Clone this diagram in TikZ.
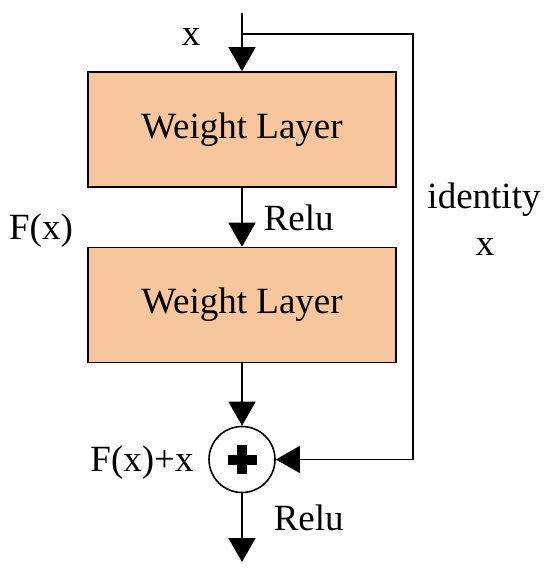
\documentclass[tikz,border=0pt]{standalone}
\usepackage{fontspec}
\setmainfont{Liberation Serif}
\usetikzlibrary{arrows.meta}
\definecolor{peach}{RGB}{248,198,156}

\begin{document}
\begin{tikzpicture}[x=1pt, y=-1pt, line width=1.6pt,
    layer/.style={draw, fill=peach, minimum width=308pt, minimum height=115pt,
        font=\fontsize{37}{44}\selectfont},
    lbl/.style={font=\fontsize{37}{44}\selectfont, inner sep=0pt},
    >={Triangle[length=24pt, width=27pt]}]

    \useasboundingbox (0,0) rectangle (550,574);

    \node[layer] (wl1) at (242,129.5) {Weight Layer};
    \node[layer] (wl2) at (242,305) {Weight Layer};
    \node[draw, circle, minimum size=66pt, inner sep=0pt] (sum) at (242,459.5) {};

    \coordinate (in) at (242,13);
    \coordinate (split) at (242,34);
    \coordinate (turn) at (413,34);
    \coordinate (out) at (242,562);

    \draw[->] (in) -- (wl1.north);
    \draw[->] (split) -- (turn) |- (sum.east);
    \draw[->] (wl1) -- (wl2);
    \draw[->] (wl2) -- (sum);
    \draw[->] (sum) -- (out);

    % plus sign
    \draw[line width=10pt] ([xshift=-14.5pt]sum.center) -- ([xshift=14.5pt]sum.center);
    \draw[line width=10pt] ([yshift=-14.5pt]sum.center) -- ([yshift=14.5pt]sum.center);

    \node[lbl, anchor=base] (xin) at (191,45) {x};
    \node[lbl, anchor=base] (fx) at (41,239) {F(x)};
    \node[lbl, anchor=base west] (relu1) at (263,230) {Relu};
    \node[lbl, anchor=base] (ident) at (484,208) {identity};
    \node[lbl, anchor=base] (identx) at (485,255) {x};
    \node[lbl, anchor=base] (fxx) at (142,471) {F(x)+x};
    \node[lbl, anchor=base west] (relu2) at (273,530) {Relu};

\end{tikzpicture}
\end{document}
